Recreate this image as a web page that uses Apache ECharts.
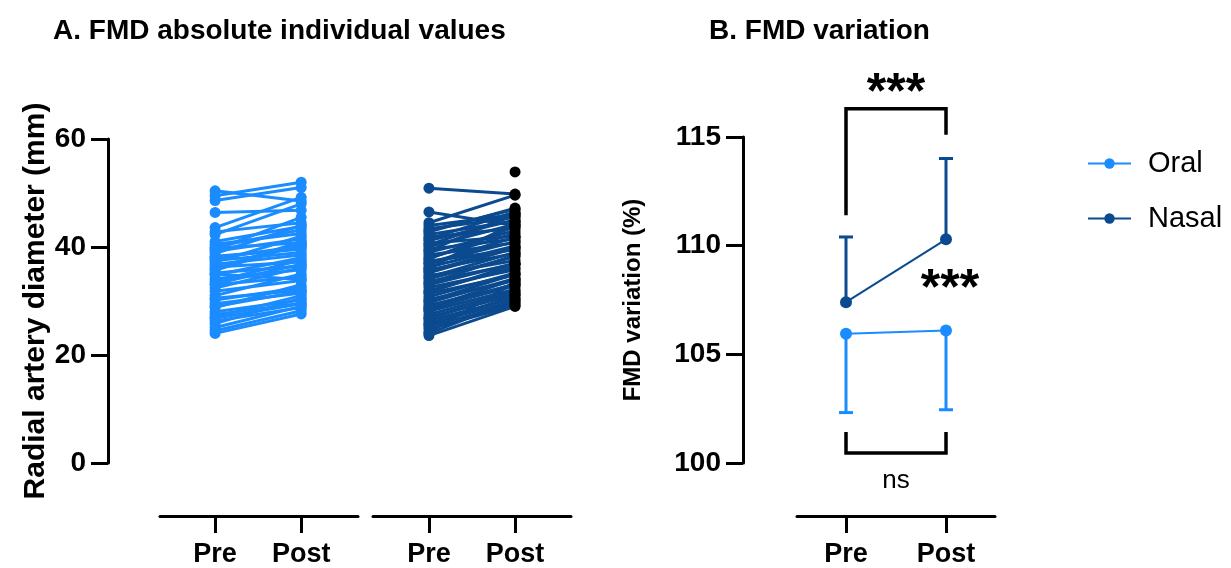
<!DOCTYPE html>
<html>
<head>
<meta charset="utf-8">
<script src="https://cdn.jsdelivr.net/npm/echarts@6/dist/echarts.min.js"></script>
<style>
  html, body { margin: 0; padding: 0; background: #fff; }
  #main { width: 1231px; height: 568px; }
</style>
</head>
<body>
<div id="main"></div>
<script>
// ---- data ----
var timeLabels = ['Pre', 'Post'];

// A. individual values (mm)
var oralPre  = [50.4, 49.5, 48.6, 46.4, 43.6, 42.8, 42.3, 41.0, 40.5, 39.8, 39.2, 38.8, 38.3, 37.9, 37.2, 36.8, 36.3, 35.7, 35.2, 34.8, 34.1,
                33.6, 33.0, 32.4, 31.8, 31.0, 30.2, 29.5, 28.8, 28.0, 27.5, 27.0, 26.3, 25.8, 25.1, 24.5, 24.0, 37.5, 36.0, 35.0, 40.0, 30.5,
                38.0, 33.2, 29.0, 26.8, 39.5];
var oralPost = [48.5, 52.0, 51.0, 46.8, 49.2, 44.5, 48.0, 43.8, 42.5, 40.8, 41.5, 44.0, 39.6, 40.2, 42.0, 38.5, 37.2, 40.5, 36.5, 38.0, 35.8,
                37.6, 34.5, 36.2, 33.8, 35.0, 32.5, 31.5, 33.0, 30.2, 29.6, 31.0, 28.8, 30.5, 29.0, 28.2, 27.6, 39.0, 41.0, 34.0, 43.2, 32.0,
                40.0, 36.8, 31.8, 29.5, 45.5];

var nasalPre  = [50.9, 46.5, 44.5, 44.0, 43.4, 42.8, 42.3, 41.8, 41.2, 40.7, 40.1, 39.6, 39.0, 38.5, 38.0, 37.4, 36.9, 36.3, 35.8, 35.2,
                 34.7, 34.1, 33.6, 33.0, 32.5, 31.9, 31.4, 30.8, 30.3, 29.7, 29.2, 28.6, 28.1, 27.5, 27.0, 26.4, 25.9, 25.3, 24.8, 24.2,
                 23.6, 37.8, 35.5, 33.3, 41.5, 30.0, 28.8, 26.8, 43.0, 40.4, 37.0, 34.4, 31.6, 28.4, 25.6, 24.0, 36.0, 39.3, null];
var nasalPost = [49.8, 44.0, 49.6, 46.0, 45.5, 47.2, 44.8, 43.5, 45.0, 42.0, 44.2, 41.5, 43.0, 40.8, 42.5, 39.5, 41.0, 40.2, 38.8, 39.8,
                 37.5, 38.2, 36.8, 37.0, 35.8, 36.2, 34.8, 35.2, 33.8, 34.2, 33.0, 32.8, 32.2, 31.8, 31.2, 30.5, 30.0, 29.6, 29.2, 33.5,
                 29.0, 43.8, 40.0, 38.5, 46.5, 35.0, 34.0, 31.5, 47.0, 45.8, 41.8, 39.0, 36.8, 33.2, 31.0, 30.2, 44.6, 46.2, 53.9];

// B. FMD variation (%) : mean and one-sided error end
var oralMean  = [105.95, 106.10];
var oralErr   = [102.32, 102.45];
var nasalMean = [107.40, 110.29];
var nasalErr  = [110.40, 114.01];

// significance brackets: [x1, x2, yBar, yLeg1, yLeg2]
var brackets = [[0, 1, 116.3, 111.4, 115.1], [0, 1, 100.46, 101.43, 101.43]];
// annotation texts: [x, y, text, size, weight]
var notes = [[0.5, 116.95, '***', 50, 'bold'], [1.04, 107.95, '***', 50, 'bold'], [0.5, 99.2, 'ns', 26, 'normal']];

var FONT = '"Liberation Sans", Arial, Helvetica, sans-serif';
var ORAL = '#1a8cff';
var NASAL = '#0b4a8f';

var chart = echarts.init(document.getElementById('main'));

// x axis for a Pre/Post group
function groupX(idx, min, max) {
    return {
        type: 'value', gridIndex: idx, min: min, max: max, offset: 53,
        axisLine: { show: true, onZero: false, lineStyle: { color: '#000', width: 3 } },
        axisTick: { show: true, customValues: [0, 1], length: 17, lineStyle: { color: '#000', width: 3 } },
        axisLabel: {
            show: true, customValues: [0, 1], margin: 25, color: '#000',
            fontFamily: FONT, fontWeight: 'bold', fontSize: 27,
            formatter: function (v) { return timeLabels[Math.round(v)]; }
        },
        splitLine: { show: false }
    };
}

function valueY(idx, min, max, step, off, name, nameSize, gap) {
    return {
        type: 'value', gridIndex: idx, min: min, max: max, interval: step, offset: off,
        name: name, nameLocation: 'middle', nameGap: gap,
        nameTextStyle: { fontFamily: FONT, fontWeight: 'bold', fontSize: nameSize, color: '#000' },
        axisLine: { show: true, onZero: false, lineStyle: { color: '#000', width: 3 } },
        axisTick: { show: true, length: 17, lineStyle: { color: '#000', width: 3 } },
        axisLabel: { margin: 22, color: '#000', fontFamily: FONT, fontWeight: 'bold', fontSize: 28 },
        splitLine: { show: false }
    };
}

var series = [];

// panel A: one line per subject
oralPre.forEach(function (v, i) {
    series.push({
        type: 'line', name: 'oral-' + i, xAxisIndex: 0, yAxisIndex: 0,
        data: [[0, v], [1, oralPost[i]]],
        symbol: 'circle', symbolSize: 11, showSymbol: true,
        itemStyle: { color: ORAL }, lineStyle: { color: ORAL, width: 3 },
        silent: true
    });
});
nasalPost.forEach(function (v, i) {
    series.push({
        type: 'line', name: 'nasal-' + i, xAxisIndex: 1, yAxisIndex: 1,
        data: [nasalPre[i] == null ? [0, '-'] : [0, nasalPre[i]], { value: [1, v], itemStyle: { color: '#000' } }],
        symbol: 'circle', symbolSize: 11, showSymbol: true, connectNulls: false,
        itemStyle: { color: NASAL }, lineStyle: { color: NASAL, width: 3 },
        silent: true
    });
});

// panel B: error bars
function errorSeries(name, mean, err, color) {
    return {
        type: 'custom', name: name + '-err', xAxisIndex: 2, yAxisIndex: 2, silent: true,
        data: mean.map(function (m, i) { return [i, m, err[i]]; }),
        renderItem: function (params, api) {
            var p1 = api.coord([api.value(0), api.value(1)]);
            var p2 = api.coord([api.value(0), api.value(2)]);
            return {
                type: 'group', children: [
                    { type: 'line', shape: { x1: p1[0], y1: p1[1], x2: p2[0], y2: p2[1] }, style: { stroke: color, lineWidth: 3 } },
                    { type: 'line', shape: { x1: p2[0] - 7, y1: p2[1], x2: p2[0] + 7, y2: p2[1] }, style: { stroke: color, lineWidth: 3 } }
                ]
            };
        }
    };
}
series.push(errorSeries('Oral', oralMean, oralErr, ORAL));
series.push(errorSeries('Nasal', nasalMean, nasalErr, NASAL));

[['Oral', oralMean, ORAL], ['Nasal', nasalMean, NASAL]].forEach(function (s) {
    series.push({
        type: 'line', name: s[0], xAxisIndex: 2, yAxisIndex: 2,
        data: s[1].map(function (m, i) { return [i, m]; }),
        symbol: 'circle', symbolSize: 12, showSymbol: true, z: 5,
        itemStyle: { color: s[2] }, lineStyle: { color: s[2], width: 2 }
    });
});

// brackets
series.push({
    type: 'custom', name: 'brackets', xAxisIndex: 2, yAxisIndex: 2, silent: true, clip: false,
    data: brackets,
    renderItem: function (params, api) {
        var a = api.coord([api.value(0), api.value(3)]);
        var b = api.coord([api.value(0), api.value(2)]);
        var c = api.coord([api.value(1), api.value(2)]);
        var d = api.coord([api.value(1), api.value(4)]);
        return {
            type: 'polyline', shape: { points: [a, b, c, d] },
            style: { stroke: '#000', lineWidth: 3.5, fill: null }
        };
    }
});

// annotation texts
series.push({
    type: 'custom', name: 'notes', xAxisIndex: 2, yAxisIndex: 2, silent: true, clip: false,
    data: notes,
    renderItem: function (params, api) {
        var n = notes[params.dataIndex];
        var p = api.coord([n[0], n[1]]);
        return {
            type: 'text', x: p[0], y: p[1],
            style: { text: n[2], fill: '#000', font: n[4] + ' ' + n[3] + 'px ' + FONT, align: 'center', verticalAlign: 'middle' }
        };
    }
});

chart.setOption({
    animation: false,
    backgroundColor: '#fff',
    textStyle: { fontFamily: FONT },
    title: [
        { text: 'A. FMD absolute individual values', left: 48, top: 12, textStyle: { fontFamily: FONT, fontWeight: 'bold', fontSize: 28, color: '#000' } },
        { text: 'B. FMD variation', left: 704, top: 12, textStyle: { fontFamily: FONT, fontWeight: 'bold', fontSize: 28, color: '#000' } }
    ],
    legend: {
        data: ['Oral', 'Nasal'], orient: 'vertical', left: 1082, top: 144,
        itemWidth: 43, itemHeight: 13, itemGap: 26,
        textStyle: { fontFamily: FONT, fontSize: 29, color: '#000', padding: [0, 0, 0, 12] }
    },
    grid: [
        { left: 160, top: 139, width: 198, height: 324 },
        { left: 373, top: 139, width: 198, height: 324 },
        { left: 797, top: 137, width: 198, height: 326 }
    ],
    xAxis: [
        groupX(0, -0.64, 1.66),
        groupX(1, -0.65, 1.65),
        groupX(2, -0.49, 1.49)
    ],
    yAxis: [
        valueY(0, 0, 60, 20, 52, 'Radial artery diameter (mm)', 30, 56),
        { type: 'value', gridIndex: 1, min: 0, max: 60, show: false, splitLine: { show: false } },
        valueY(2, 100, 115, 5, 54, 'FMD variation (%)', 24, 98)
    ],
    series: series
});
</script>
</body>
</html>
